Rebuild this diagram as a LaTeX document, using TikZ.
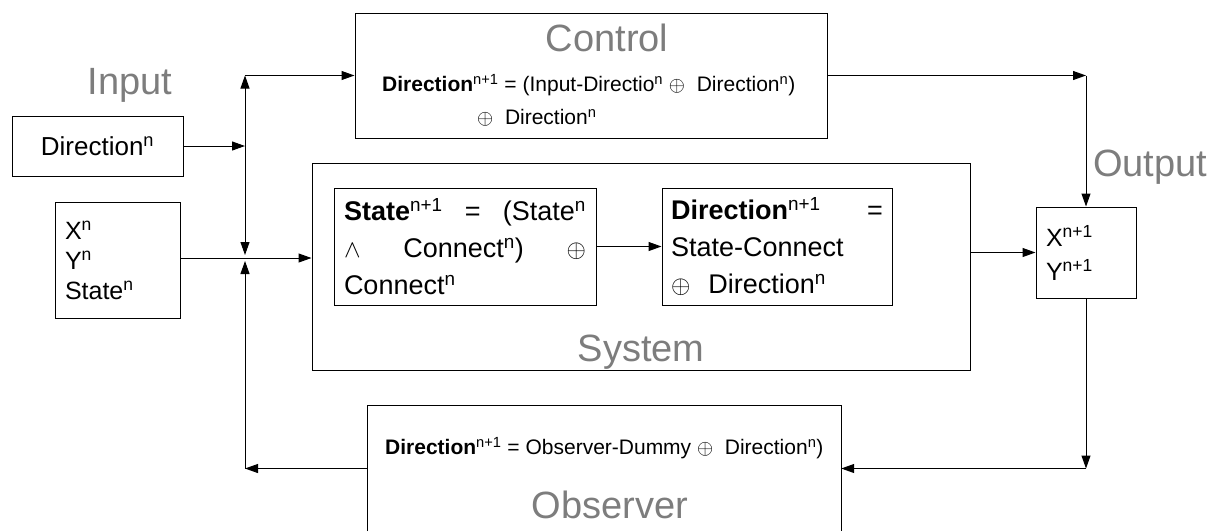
\documentclass[tikz,border=0pt]{standalone}
\usepackage{fontspec}
\setmainfont{Liberation Sans}
\usepackage{xcolor}
\definecolor{titlegray}{RGB}{125, 125, 125}
\usepackage{tikz}
\usetikzlibrary{arrows.meta, positioning, calc}
\tikzstyle{block} = [rectangle, draw, line width=1pt, inner sep=0pt]
\tikzstyle{title} = [font=\fontsize{38}{40}\selectfont, text=titlegray, inner sep=0pt]
\tikzstyle{formula} = [font=\fontsize{21}{33}\selectfont, inner sep=0pt, align=left]
\tikzstyle{arrow} = [line width=1pt, -{Triangle[length=13pt,width=9pt]}]
\tikzstyle{line} = [line width=1pt]
\newcommand{\sups}[1]{\textsuperscript{#1}}
\newcommand{\spreadline}[2]{\makebox[#1][l]{#2}}

\begin{document}
\begin{tikzpicture}[x=1pt, y=-1pt]
    \useasboundingbox (0,0) rectangle (1231,531);

    % input side
    \node[title] (inlabel) at (130,85) {Input};
    \node[block, minimum width=171, minimum height=60, font=\fontsize{26}{30}\selectfont] (dirin) at (97.5,146) {Direction\sups{n}};
    \node[block, minimum width=125, minimum height=116, text width=105, align=left, font=\fontsize{25}{30}\selectfont] (xin) at (117.5,260) {X\sups{n}\\Y\sups{n}\\State\sups{n}};

    % control
    \node[block, minimum width=472, minimum height=125] (control) at (591,75.5) {};
    \node[title] (controlt) at (607,38) {Control};
    \node[formula, anchor=west] (controlf) at (382,85) {\textbf{Direction}\sups{n+1} = (Input-Directio\sups{n} $\oplus$\ \ Direction\sups{n})};
    \node[formula, anchor=west] (controlg) at (477,118) {$\oplus$\ \ Direction\sups{n}};

    % system
    \node[block, minimum width=658, minimum height=207] (system) at (641,266.5) {};
    \node[title] (systemt) at (641,352) {System};
    \node[block, minimum width=262, minimum height=117, text width=242, align=left, font=\fontsize{27}{37}\selectfont] (stateb) at (465,246.5)
        {\spreadline{242pt}{\textbf{State}\sups{n+1}\hfill=\hfill(State\sups{n}}\\\spreadline{242pt}{$\wedge$\hfill Connect\sups{n})\hfill$\oplus$}\\Connect\sups{n}};
    \node[block, minimum width=230, minimum height=117, text width=212, align=left, font=\fontsize{27}{37}\selectfont] (dirb) at (777,246.5)
        {\spreadline{212pt}{\textbf{Direction}\sups{n+1}\hfill=}\\State-Connect\\$\oplus$\ \ Direction\sups{n}};

    % output
    \node[block, minimum width=100, minimum height=91, text width=80, align=left, font=\fontsize{25}{34}\selectfont] (xout) at (1086,252.5) {X\sups{n+1}\\Y\sups{n+1}};
    \node[title, anchor=west] (outlabel) at (1093,167) {Output};

    % observer (bottom edge is cut off)
    \node[inner sep=0pt, minimum width=473, minimum height=125] (observer) at (604.5,468.5) {};
    \draw[line] (observer.south west) |- (observer.north east) -- (observer.south east);
    \node[formula, anchor=west] (observerf) at (385,448) {\textbf{Direction}\sups{n+1} = Observer-Dummy $\oplus$\ \ Direction\sups{n})};
    \node[title] (observert) at (610,505) {Observer};

    % junction points
    \coordinate (j) at (245,258);
    \coordinate (jdir) at (dirin.east -| j);
    \coordinate (jtop) at (j |- control.west);
    \coordinate (jbot) at (j |- observer.west);
    \coordinate (outc) at (xout.north |- control.east);
    \coordinate (obsc) at (xout.south |- observer.east);

    \draw[arrow] (dirin.east) -- (jdir);
    \draw[arrow] (jdir) -- (jtop);
    \draw[arrow] (jtop) -- (control.west);
    \draw[arrow] (jdir) -- ($(j)+(0,-3)$);
    \draw[arrow] (jbot) -- ($(j)+(0,3)$);
    \draw[arrow] (xin.east |- j) -- (system.west |- j);
    \draw[arrow] (stateb) -- (dirb);
    \draw[arrow] (control.east) -- (outc);
    \draw[arrow] (outc) -- (xout.north);
    \draw[arrow] (xout.west -| system.east) -- (xout.west);
    \draw[arrow] (xout.south) -- (obsc);
    \draw[arrow] (obsc) -- (observer.east);
    \draw[arrow] (observer.west) -- (jbot);
\end{tikzpicture}
\end{document}
